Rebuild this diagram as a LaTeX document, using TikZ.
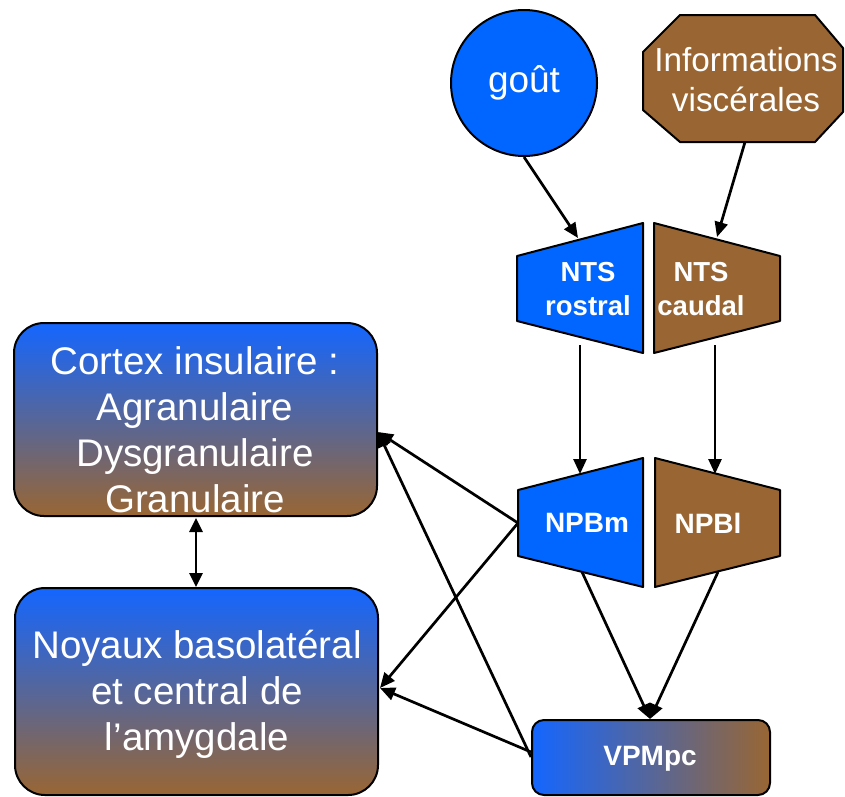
\documentclass[tikz,border=0pt]{standalone}
\usepackage{fontspec}
\setmainfont{Liberation Sans}
\usetikzlibrary{arrows.meta}
\definecolor{blueA}{HTML}{0066FF}
\definecolor{blueG}{HTML}{1466FF}
\definecolor{purpM}{HTML}{7466AE}
\definecolor{brownA}{HTML}{996633}
\begin{document}
\begin{tikzpicture}[x=1pt,y=-1pt,
  outl/.style={draw=black,line width=2pt,line join=round},
  arr/.style={draw=black,line width=2.7pt,-{Triangle[length=15pt,width=13pt]}},
  dbl/.style={draw=black,line width=2.7pt,{Triangle[length=14pt,width=13pt]}-{Triangle[length=14pt,width=13pt]}},
  vgrad/.style={top color=blueG,middle color=purpM,bottom color=brownA},
  hgrad/.style={left color=blueG,middle color=purpM,right color=brownA},
  bigtxt/.style={text=white,align=center,font=\fontsize{38.5}{46}\selectfont},
  midtxt/.style={text=white,align=center,font=\fontsize{33.3}{40}\selectfont},
  boldtxt/.style={text=white,align=center,font=\fontsize{27.5}{34}\selectfont\bfseries}]
\useasboundingbox (0,0) rectangle (845,796);

% gout circle
\node[circle,outl,fill=blueA,minimum size=146pt,inner sep=0pt,font=\fontsize{37}{40}\selectfont,text=white] (gout) at (524,83) {goût};

% Informations viscerales octagon
\filldraw[outl,fill=brownA] (680,15) -- (815,15) -- (843,48) -- (843,112) -- (815,142) -- (680,142) -- (643,110) -- (643,52) -- cycle;
\node[midtxt] (info) at (746,80) {Informations\\viscérales};
\coordinate (infoB) at (745,142);

% NTS trapezoids
\filldraw[outl,fill=blueA] (517,256) -- (643,223) -- (643,353) -- (517,321) -- cycle;
\filldraw[outl,fill=brownA] (654,223) -- (780,256) -- (780,321) -- (654,353) -- cycle;
\node[boldtxt] (ntsr) at (588,289) {NTS\\rostral};
\node[boldtxt] (ntsc) at (701,289) {NTS\\caudal};
\coordinate (ntsrT) at (578,238);
\coordinate (ntscT) at (717,237);
\coordinate (ntsrB) at (580,345);
\coordinate (ntscB) at (715,345);

% NPB trapezoids
\filldraw[outl,fill=blueA] (518,490) -- (643,458) -- (643,587) -- (518,556) -- cycle;
\filldraw[outl,fill=brownA] (655,458) -- (780,490) -- (780,556) -- (655,587) -- cycle;
\node[boldtxt,font=\fontsize{28}{34}\selectfont\bfseries] (npbm) at (587,523) {NPBm};
\node[boldtxt,font=\fontsize{28}{34}\selectfont\bfseries] (npbl) at (708,523) {NPBl};
\coordinate (npbmT) at (580,474);
\coordinate (npblT) at (715,474);
\coordinate (npbmL) at (518,523);
\coordinate (npbmB) at (582,572);
\coordinate (npblB) at (718,572);

% VPMpc
\shade[hgrad,rounded corners=12pt] (532,720) rectangle (770,795);
\draw[outl,rounded corners=12pt] (532,720) rectangle (770,795);
\node[boldtxt,font=\fontsize{28}{34}\selectfont\bfseries] (vpm) at (650,759) {VPMpc};
\coordinate (vpmT) at (650,719);
\coordinate (vpmL1) at (531,757);
\coordinate (vpmL2) at (531,752);

% Cortex box
\shade[vgrad,rounded corners=30pt] (14,323) rectangle (377,516);
\draw[outl,rounded corners=30pt] (14,323) rectangle (377,516);
\node[bigtxt] (cortex) at (195,430) {Cortex insulaire :\\Agranulaire\\Dysgranulaire\\Granulaire};
\coordinate (cortexR) at (378,432);
\coordinate (cortexB) at (196,518);

% Amygdala box
\shade[vgrad,rounded corners=30pt] (15,588) rectangle (378,795);
\draw[outl,rounded corners=30pt] (15,588) rectangle (378,795);
\node[bigtxt] (amyg) at (197,694) {Noyaux basolatéral\\et central de\\l’amygdale};
\coordinate (amygR) at (380,688);
\coordinate (amygT) at (196,587);

% connectors
\draw[arr] (gout.south) -- (ntsrT);
\draw[arr] (infoB) -- (ntscT);
\draw[arr] (ntsrB) -- (npbmT);
\draw[arr] (ntscB) -- (npblT);
\draw[arr] (npbmB) -- (vpmT);
\draw[arr] (npblB) -- (vpmT);
\draw[arr] (npbmL) -- (cortexR);
\draw[arr] (npbmL) -- (amygR);
\draw[arr] (vpmL1) -- (cortexR);
\draw[arr] (vpmL2) -- (amygR);
\draw[dbl] (cortexB) -- (amygT);
\end{tikzpicture}
\end{document}
